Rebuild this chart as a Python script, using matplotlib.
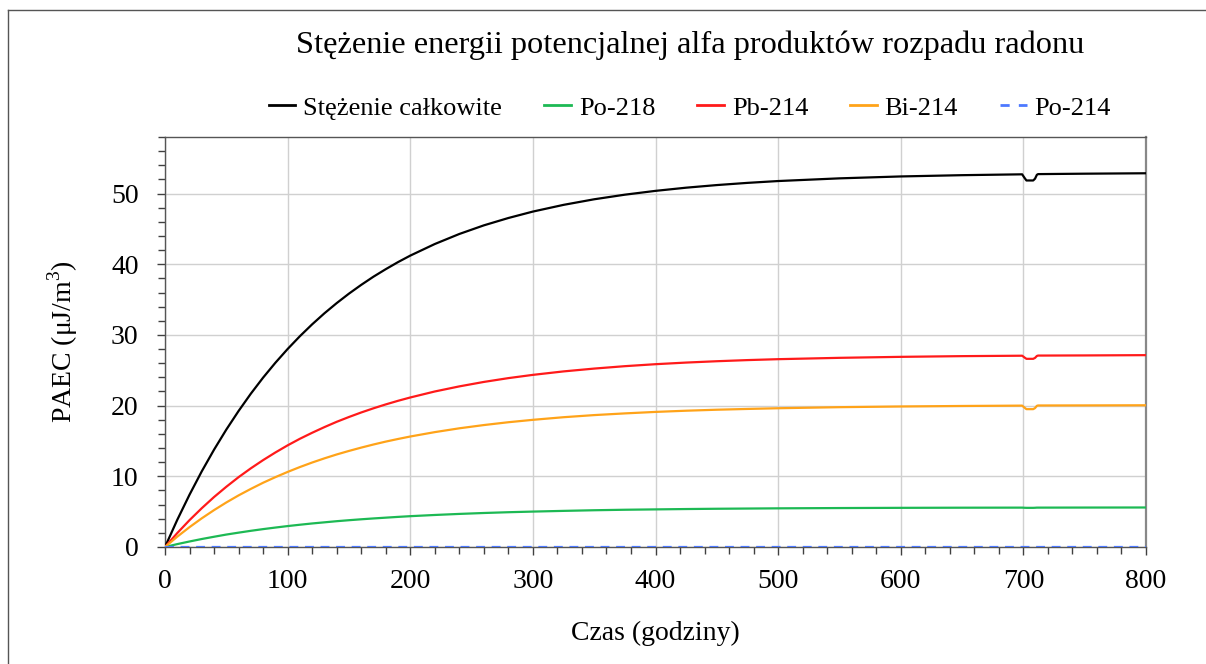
import matplotlib
matplotlib.use("Agg")
import matplotlib.pyplot as plt
from matplotlib.ticker import MultipleLocator
from matplotlib.lines import Line2D

# ---- data ----
time_h = [0, 10, 20, 30, 40, 50, 60, 70, 80, 90, 100,
          110, 120, 130, 140, 150, 160, 170, 180, 190, 200,
          220, 240, 260, 280, 300, 325, 350, 375, 400, 425, 450, 475, 500,
          550, 600, 650, 699,
          701, 702.5, 708, 709.5, 711, 712, 750, 800]

total = [0, 3.84, 7.40, 10.71, 13.77, 16.61, 19.24, 21.69, 23.96, 26.06, 28.01,
         29.82, 31.50, 33.06, 34.50, 35.84, 37.08, 38.24, 39.30, 40.30, 41.22,
         42.86, 44.28, 45.50, 46.54, 47.45, 48.40, 49.19, 49.84, 50.38, 50.83, 51.20, 51.51, 51.77,
         52.15, 52.42, 52.60, 52.72,
         52.20, 51.85, 51.85, 52.10, 52.65, 52.75, 52.81, 52.87]

po218 = [0, 0.41, 0.78, 1.13, 1.45, 1.76, 2.03, 2.29, 2.53, 2.75, 2.96,
         3.15, 3.33, 3.49, 3.65, 3.79, 3.92, 4.04, 4.15, 4.26, 4.36,
         4.53, 4.68, 4.81, 4.92, 5.01, 5.11, 5.20, 5.27, 5.32, 5.37, 5.41, 5.44, 5.47,
         5.51, 5.54, 5.56, 5.57,
         5.55, 5.54, 5.54, 5.55, 5.57, 5.57, 5.58, 5.59]

pb214 = [0, 1.97, 3.80, 5.49, 7.07, 8.52, 9.88, 11.13, 12.29, 13.37, 14.38,
         15.31, 16.16, 16.96, 17.71, 18.39, 19.03, 19.62, 20.17, 20.68, 21.15,
         22.00, 22.72, 23.35, 23.89, 24.35, 24.84, 25.24, 25.58, 25.86, 26.09, 26.28, 26.44, 26.57,
         26.76, 26.90, 27.00, 27.06,
         26.80, 26.62, 26.62, 26.75, 27.02, 27.08, 27.10, 27.14]

bi214 = [0, 1.46, 2.81, 4.06, 5.22, 6.30, 7.30, 8.22, 9.09, 9.88, 10.62,
         11.31, 11.95, 12.54, 13.09, 13.59, 14.06, 14.50, 14.91, 15.28, 15.63,
         16.25, 16.79, 17.25, 17.65, 17.99, 18.36, 18.66, 18.90, 19.11, 19.28, 19.42, 19.53, 19.63,
         19.78, 19.88, 19.95, 20.00,
         19.70, 19.50, 19.50, 19.65, 19.97, 20.02, 20.03, 20.05]

po214 = [0.0] * len(time_h)

labels = ["Stężenie całkowite", "Po-218", "Pb-214", "Bi-214", "Po-214"]
colors = ["#000000", "#1db954", "#ff1a1a", "#ffa319", "#4d79ff"]

title = "Stężenie energii potencjalnej alfa produktów rozpadu radonu"
xlabel = "Czas (godziny)"
ylabel = "PAEC (μJ/m$^3$)"

plt.rcParams['font.family'] = ['Liberation Serif', 'DejaVu Serif']
plt.rcParams['mathtext.fontset'] = 'custom'
plt.rcParams['mathtext.rm'] = 'Liberation Serif'

fig = plt.figure(figsize=(12.06, 6.64), dpi=100)
ax = fig.add_axes([165/1206, 117/664, (1146-165)/1206, (547-137)/664])

series = [total, po218, pb214, bi214, po214]
for i, (ys, c) in enumerate(zip(series, colors)):
    ls = (0, (4, 3)) if i == 4 else '-'
    ax.plot(time_h, ys, color=c, lw=1.6, ls=ls, zorder=3 + (1 if i == 4 else 0),
            solid_joinstyle='round')

ax.set_xlim(0, 800)
ax.set_ylim(0, 58)
ax.xaxis.set_major_locator(MultipleLocator(100))
ax.xaxis.set_minor_locator(MultipleLocator(20))
ax.yaxis.set_major_locator(MultipleLocator(10))
ax.yaxis.set_minor_locator(MultipleLocator(2))
ax.grid(True, which='major', color='#d0d0d0', lw=1.0, zorder=0)
ax.tick_params(which='both', direction='out', colors='#404040', labelcolor='black',
               labelsize=20)
ax.tick_params(which='major', length=6, width=1.0)
ax.tick_params(which='minor', length=5, width=1.0)
ax.tick_params(axis='x', pad=10)
ax.tick_params(axis='y', pad=13)
for s in ['left', 'bottom', 'top']:
    ax.spines[s].set_color('#555555')
    ax.spines[s].set_linewidth(1.0)
ax.spines['right'].set_color('#888888')
ax.spines['right'].set_linewidth(1.6)

ax.set_xlabel(xlabel, fontsize=20, labelpad=19)
ax.set_ylabel(ylabel, fontsize=20, labelpad=22)

fig.text(690/1206, 1 - 45/664, title, fontsize=23.3, ha='center', va='center')

handles = []
for i, c in enumerate(colors):
    ls = (0, (3.3, 3.3)) if i == 4 else '-'
    handles.append(Line2D([], [], color=c, lw=2, ls=ls))
fig.legend(handles, labels, loc='center', bbox_to_anchor=(690/1206, 1 - 108/664),
           ncol=5, frameon=False, fontsize=19, handlelength=1.0, handletextpad=0.3,
           columnspacing=1.6)

# outer border of the chart area
fig.add_artist(Line2D([8/1206, 8/1206], [0, 1 - 10/664], transform=fig.transFigure,
                      color='#555555', lw=1.0))
fig.add_artist(Line2D([8/1206, 1], [1 - 10/664, 1 - 10/664], transform=fig.transFigure,
                      color='#555555', lw=1.0))

fig.savefig("out.png", dpi=100, facecolor='white')
